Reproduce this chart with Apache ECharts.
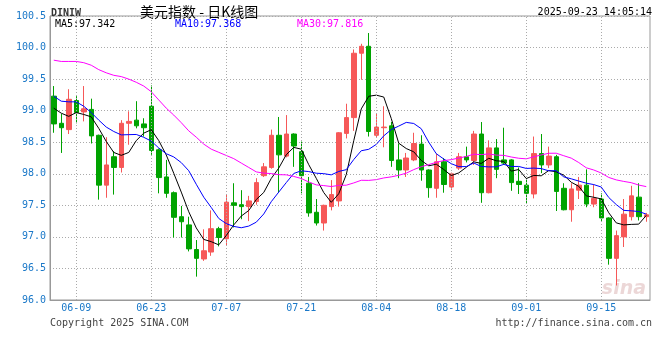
<!DOCTYPE html>
<html><head><meta charset="utf-8">
<script src="https://cdn.jsdelivr.net/npm/echarts@6/dist/echarts.min.js"></script>
<style>html,body{margin:0;padding:0;background:#fff}#c{width:660px;height:360px}</style>
</head><body><div id="c"></div>
<script>
// ---- data ----
const dates = ['06-04','06-05','06-06','06-09','06-10','06-11','06-12','06-13','06-16','06-17','06-18','06-19','06-20','06-23','06-24','06-25','06-26','06-27','06-30',
 '07-01','07-02','07-03','07-04','07-07','07-08','07-09','07-10','07-11','07-14','07-15','07-16','07-17','07-18','07-21','07-22','07-23','07-24','07-25','07-28','07-29','07-30','07-31',
 '08-01','08-04','08-05','08-06','08-07','08-08','08-11','08-12','08-13','08-14','08-15','08-18','08-19','08-20','08-21','08-22','08-25','08-26','08-27','08-28','08-29',
 '09-01','09-02','09-03','09-04','09-05','09-08','09-09','09-10','09-11','09-12','09-15','09-16','09-17','09-18','09-19','09-22','09-23'];
const opens  = [99.23,98.80,98.70,99.16,98.98,99.02,98.61,97.82,98.27,98.10,98.80,98.85,98.79,99.07,98.38,97.95,97.70,97.32,97.19,96.80,
  96.65,96.76,97.13,96.97,97.54,97.51,97.48,97.56,97.97,98.10,98.61,98.28,98.63,98.35,97.85,97.39,97.22,97.48,97.57,98.64,
  98.89,99.91,100.02,98.61,98.73,98.76,98.22,98.06,98.22,98.47,98.06,97.77,98.19,97.79,98.09,98.27,98.21,98.63,97.70,98.41,
  98.22,98.22,97.88,97.82,97.68,98.32,98.14,98.27,97.77,97.43,97.74,97.82,97.52,97.60,97.30,96.66,97.00,97.32,97.63,97.32];
const closes = [98.79,98.73,99.18,98.97,99.03,98.60,97.82,98.14,98.10,98.80,98.83,98.76,98.73,98.37,97.94,97.69,97.31,97.24,96.81,96.66,
  96.78,97.13,96.99,97.55,97.50,97.48,97.57,97.86,98.11,98.61,98.30,98.63,98.44,97.97,97.38,97.22,97.50,97.67,98.65,98.89,
  99.91,100.02,98.67,98.74,98.74,98.21,98.06,98.25,98.48,98.06,97.78,98.19,97.83,98.00,98.27,98.22,98.63,97.70,98.41,98.07,
  98.17,97.86,97.83,97.69,98.32,98.14,98.28,97.72,97.43,97.76,97.82,97.52,97.61,97.30,96.66,97.02,97.36,97.65,97.32,97.35];
const lows   = [98.65,98.33,98.63,98.80,98.83,98.48,97.59,97.62,97.67,98.02,98.46,98.72,98.59,98.30,97.69,97.62,96.99,96.99,96.77,96.37,
  96.62,96.70,96.85,96.87,97.15,97.28,97.25,97.51,97.95,98.08,97.70,98.26,98.11,97.69,97.32,97.18,97.10,97.42,97.48,98.56,
  98.68,99.49,98.59,98.58,98.42,98.11,97.93,97.95,98.20,97.89,97.62,97.62,97.70,97.74,98.06,98.18,98.14,97.54,97.69,97.93,
  98.14,97.73,97.68,97.53,97.61,98.01,98.09,97.41,97.42,97.24,97.60,97.47,97.47,97.24,96.56,96.23,96.84,97.26,97.26,97.24];
const highs  = [99.39,98.95,99.34,99.23,99.39,99.19,98.62,98.58,98.36,98.85,98.99,99.15,98.88,99.40,98.40,98.22,97.72,97.49,97.32,96.95,
  97.12,97.42,97.16,97.68,97.85,97.74,97.65,97.93,98.17,98.70,98.90,98.93,98.64,98.51,97.95,97.60,97.51,97.90,98.66,99.11,
  99.97,100.06,100.23,98.96,99.07,98.82,98.48,98.33,98.65,98.61,98.07,98.32,98.25,98.02,98.33,98.43,98.68,98.82,98.53,98.55,
  98.73,98.23,98.10,97.93,98.59,98.63,98.43,98.30,97.85,97.85,97.95,98.07,97.83,97.69,97.31,97.10,97.60,97.81,97.85,97.38];
// moving-average values before each window is complete
const ma5Head  = [99.04,98.96,98.91,98.97];
const ma10Head = [99.23,99.15,99.14,99.14,99.07,98.97,98.85,98.74,98.67];
const ma30Head = [99.80,99.78,99.78,99.78,99.76,99.72,99.65,99.60,99.56,99.54,99.50,99.45,99.39,99.30,99.17,
  99.04,98.93,98.81,98.68,98.58,98.47,98.39,98.34,98.29,98.24,98.17,98.10,98.03,98.01];
const xTickLabels = ['06-09','06-23','07-07','07-21','08-04','08-18','09-01','09-15'];
const yMin = 96.0, yMax = 100.5, yStep = 0.5;
const maLegend = ['MA5:97.342','MA10:97.368','MA30:97.816'];

function movingAvg(n, head) {
  return closes.map((c, i) => {
    if (i < n - 1) return head[i];
    let s = 0; for (let k = i - n + 1; k <= i; k++) s += closes[k];
    return +(s / n).toFixed(3);
  });
}

const UP = '#f65858', DOWN = '#00a300', LBL = '#1a78c8', MONO = 'DejaVu Sans Mono';
const chart = echarts.init(document.getElementById('c'), null, {renderer: 'canvas'});
chart.setOption({
  animation: false,
  backgroundColor: '#fff',
  grid: {left: 50, right: 10, top: 16, bottom: 60, show: true, borderColor: '#999', borderWidth: 1},
  xAxis: {
    type: 'category', data: dates, boundaryGap: true,
    axisLine: {lineStyle: {color: '#999'}}, axisTick: {show: false}, splitLine: {show: false},
    axisLabel: {interval: (i, v) => xTickLabels.includes(v), color: LBL, fontFamily: MONO, fontSize: 10, margin: 3}
  },
  yAxis: {
    type: 'value', min: yMin, max: yMax, interval: yStep, scale: true,
    axisLine: {show: true, lineStyle: {color: '#999'}}, axisTick: {show: false},
    axisLabel: {formatter: v => v.toFixed(1), color: LBL, fontFamily: MONO, fontSize: 10, margin: 4},
    splitLine: {lineStyle: {type: [1, 2], color: '#aaa', width: 1}}
  },
  series: [
    {
      type: 'line', data: closes, showSymbol: false, silent: true, z: 1,
      lineStyle: {opacity: 0},
      markLine: {
        silent: true, symbol: 'none', label: {show: false},
        lineStyle: {type: [1, 2], color: '#aaa', width: 1},
        data: xTickLabels.map(d => ({xAxis: d}))
      }
    },
    {
      type: 'candlestick', z: 2, barWidth: 5,
      data: dates.map((d, i) => [opens[i], closes[i], lows[i], highs[i]]),
      itemStyle: {color: UP, color0: DOWN, borderColor: UP, borderColor0: DOWN, borderWidth: 1}
    },
    {type: 'line', z: 3, data: movingAvg(5, ma5Head), showSymbol: false, silent: true, lineStyle: {color: '#000', width: 1}},
    {type: 'line', z: 3, data: movingAvg(10, ma10Head), showSymbol: false, silent: true, lineStyle: {color: '#0000ff', width: 1}},
    {type: 'line', z: 3, data: movingAvg(30, ma30Head), showSymbol: false, silent: true, lineStyle: {color: '#ff00ff', width: 1}}
  ],
  graphic: [
    {type: 'text', x: 51, y: 13, style: {text: 'DINIW', font: 'bold 10px "DejaVu Sans Mono"', fill: '#333', verticalAlign: 'middle'}},
    {type: 'text', x: 140, y: 12, style: {text: '美元指数 - 日K线图', font: '14px "Noto Sans CJK SC"', fill: '#000', verticalAlign: 'middle'}},
    {type: 'text', x: 652, y: 12, style: {text: '2025-09-23 14:05:14', font: '10px "DejaVu Sans Mono"', fill: '#000', align: 'right', verticalAlign: 'middle'}},
    {type: 'text', x: 55, y: 24, z: 10, style: {text: maLegend[0], font: '10px "DejaVu Sans Mono"', fill: '#000', verticalAlign: 'middle'}},
    {type: 'text', x: 175, y: 24, z: 10, style: {text: maLegend[1], font: '10px "DejaVu Sans Mono"', fill: '#0000ff', verticalAlign: 'middle'}},
    {type: 'text', x: 297, y: 24, z: 10, style: {text: maLegend[2], font: '10px "DejaVu Sans Mono"', fill: '#ff00ff', verticalAlign: 'middle'}},
    {type: 'text', x: 50, y: 323, style: {text: 'Copyright 2025 SINA.COM', font: '10px "DejaVu Sans Mono"', fill: '#444', verticalAlign: 'middle'}},
    {type: 'text', x: 652, y: 323, style: {text: 'http://finance.sina.com.cn', font: '10px "DejaVu Sans Mono"', fill: '#444', align: 'right', verticalAlign: 'middle'}},
    {type: 'text', x: 646, y: 289, z: 0, style: {text: 'sina', font: 'italic bold 19px "DejaVu Sans"', fill: 'rgba(200,140,140,0.35)', align: 'right', verticalAlign: 'middle'}}
  ]
});
</script></body></html>
